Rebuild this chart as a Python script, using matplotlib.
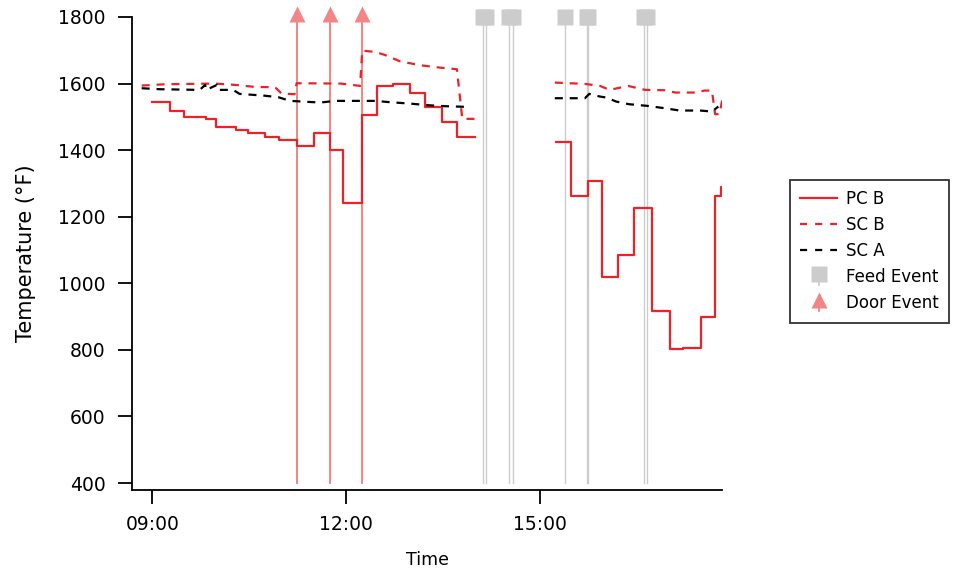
import numpy as np
import matplotlib
matplotlib.use("Agg")
import matplotlib.pyplot as plt
from matplotlib.lines import Line2D
from matplotlib.legend_handler import HandlerBase
import matplotlib.transforms as mtransforms

plt.rcParams['font.family'] = ['DejaVu Sans']

nan = float('nan')

# ---------------- data ----------------
pcb_times = ["09:00", "09:16", "09:29", "09:50", "09:59", "10:18", "10:29", "10:45", "10:58",
             "11:14", "11:30", "11:45", "11:57", "12:15", "12:29", "12:44", "12:59", "13:13",
             "13:29", "13:43", "14:00", "14:00",
             "15:15", "15:29", "15:45", "15:58", "16:13", "16:28", "16:44", "17:01", "17:13",
             "17:30", "17:43", "17:48", "17:49"]
pcb_values = [1544, 1518, 1500, 1493, 1469, 1461, 1451, 1439, 1431,
              1412, 1451, 1400, 1240, 1506, 1593, 1599, 1573, 1531,
              1486, 1439, 1439, nan,
              1425, 1263, 1308, 1018, 1085, 1227, 918, 802, 807,
              900, 1263, 1290, 1290]

scb_times = ["08:50", "09:12", "09:58", "10:17", "10:35", "10:54", "11:00", "11:12", "11:14",
             "11:55", "12:13", "12:15", "12:27", "12:36", "12:50", "13:09", "13:27", "13:43",
             "13:48", "14:00", "14:01",
             "15:14", "15:42", "15:56", "16:05", "16:22", "16:38", "16:56", "17:06", "17:26",
             "17:33", "17:40", "17:43", "17:47", "17:50"]
scb_values = [1594, 1598, 1600, 1596, 1590, 1589, 1570, 1568, 1601,
              1600, 1593, 1699, 1695, 1686, 1667, 1655, 1648, 1643,
              1494, 1494, nan,
              1603, 1599, 1593, 1581, 1593, 1581, 1580, 1573, 1573,
              1579, 1579, 1508, 1508, 1557]

sca_times = ["08:50", "09:07", "09:44", "09:49", "09:50", "10:00", "10:01", "10:15", "10:21",
             "10:43", "10:57", "11:08", "11:36", "11:50", "12:27", "12:41", "12:59", "13:16",
             "13:32", "13:52", "13:53",
             "15:14", "15:42", "15:46", "15:56", "16:02", "16:11", "16:23", "16:40", "16:56",
             "17:10", "17:29", "17:40", "17:46"]
sca_values = [1586, 1583, 1581, 1596, 1581, 1596, 1581, 1581, 1569,
              1564, 1559, 1548, 1543, 1548, 1548, 1544, 1540, 1535,
              1532, 1530, nan,
              1556, 1556, 1569, 1561, 1558, 1546, 1538, 1533, 1526,
              1519, 1519, 1516, 1531]

feed_times = ["14:07", "14:10", "14:31", "14:35", "15:23", "15:44", "15:45", "16:37", "16:40"]
door_times = ["11:14", "11:45", "12:15"]

x_tick_labels = ["09:00", "12:00", "15:00"]
y_ticks = [400, 600, 800, 1000, 1200, 1400, 1600, 1800]


def hrs(s):
    h, m = s.split(":")
    return int(h) + int(m) / 60.0


# ---------------- figure ----------------
fig = plt.figure(figsize=(9.6, 5.71), dpi=100)
ax = fig.add_axes([132 / 960, 1 - 490 / 571, (722 - 132) / 960, (490 - 17) / 571])

red = '#ec2227'
door_c = '#f28585'
feed_c = '#cccccc'
dash = (3.6, 3.1)

# event lines
ymin_ev, ymax_ev = 400, 1800
for t in feed_times:
    ax.plot([hrs(t), hrs(t)], [ymin_ev, ymax_ev], color=feed_c, lw=1.0, zorder=1)
for t in door_times:
    ax.plot([hrs(t), hrs(t)], [ymin_ev, ymax_ev], color=door_c, lw=1.4, zorder=1)

ax.plot([hrs(t) for t in pcb_times], pcb_values, color=red, lw=1.6,
        drawstyle='steps-post', zorder=3)
ax.plot([hrs(t) for t in scb_times], scb_values, color=red, lw=1.6,
        dashes=dash, zorder=3)
ax.plot([hrs(t) for t in sca_times], sca_values, color='black', lw=1.6,
        dashes=dash, zorder=3)

# event markers at top
ax.plot([hrs(t) for t in feed_times], [1800] * len(feed_times), ls='none', marker='s',
        ms=11, mfc=feed_c, mec='none', clip_on=False, zorder=4)
off = mtransforms.ScaledTranslation(0, 3 / 100, fig.dpi_scale_trans)
ax.plot([hrs(t) for t in door_times], [1800] * len(door_times), ls='none', marker='^',
        ms=11, mfc=door_c, mec='none', clip_on=False, zorder=4,
        transform=ax.transData + off)

ax.set_xlim(hrs("08:41"), 17.823)
ax.set_ylim(379, 1800)
ax.set_xticks([hrs(s) for s in x_tick_labels])
ax.set_xticklabels(x_tick_labels)
ax.set_yticks(y_ticks)
ax.set_yticklabels([str(v) for v in y_ticks])

for s in ['top', 'right']:
    ax.spines[s].set_visible(False)
for s in ['left', 'bottom']:
    ax.spines[s].set_linewidth(1.3)
ax.tick_params(axis='both', direction='out', length=10, width=1.3, labelsize=13.5)
ax.tick_params(axis='y', pad=9)
ax.tick_params(axis='x', pad=8)

ax.set_xlabel("Time", fontsize=12.5, labelpad=12)
ax.set_ylabel("Temperature (°F)", fontsize=15, labelpad=16)


# ---------------- legend ----------------
class EventHandler(HandlerBase):
    def __init__(self, marker, color):
        super().__init__()
        self.marker = marker
        self.color = color

    def create_artists(self, legend, orig_handle, xdescent, ydescent, width, height,
                       fontsize, trans):
        cx = -xdescent + width / 2
        cy = -ydescent + height * 0.75
        stem = Line2D([cx, cx], [-ydescent - height * 0.2, cy], color=self.color,
                      lw=1.3, transform=trans)
        mk = Line2D([cx], [cy], marker=self.marker, ms=11, mfc=self.color, mec='none',
                    ls='none', transform=trans)
        return [stem, mk]


h_pcb = Line2D([], [], color=red, lw=1.6)
h_scb = Line2D([], [], color=red, lw=1.6, dashes=(3.2, 3.6))
h_sca = Line2D([], [], color='black', lw=1.6, dashes=(3.2, 3.6))
h_feed = Line2D([], [], color=feed_c)
h_door = Line2D([], [], color=door_c)

leg = fig.legend([h_pcb, h_scb, h_sca, h_feed, h_door],
                 ["PC B", "SC B", "SC A", "Feed Event", "Door Event"],
                 loc='upper left', bbox_to_anchor=(790 / 960, 1 - 180 / 571),
                 bbox_transform=fig.transFigure, fontsize=12, frameon=True,
                 fancybox=False, handlelength=2.2, handletextpad=0.55,
                 labelspacing=0.48, borderpad=0.62, borderaxespad=0,
                 handler_map={h_feed: EventHandler('s', feed_c),
                              h_door: EventHandler('^', door_c)})
leg.get_frame().set_edgecolor('black')
leg.get_frame().set_linewidth(1.3)

fig.savefig("out.png", dpi=100)
